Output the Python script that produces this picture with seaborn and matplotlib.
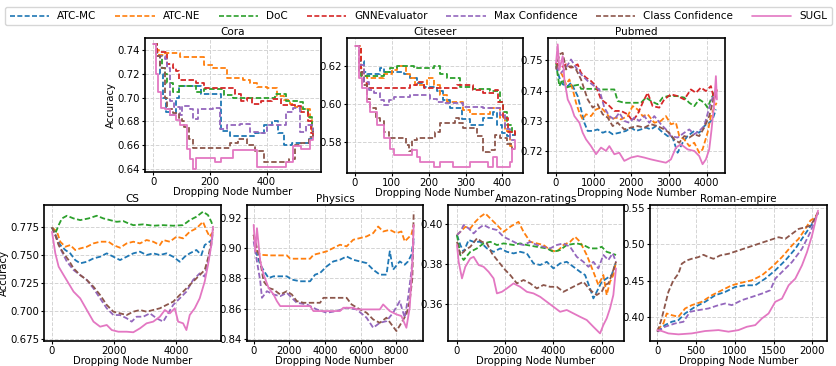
import matplotlib
matplotlib.use('Agg')
import matplotlib.pyplot as plt
from matplotlib.lines import Line2D
import pandas as pd
import seaborn as sns

methods = ['ATC-MC', 'ATC-NE', 'DoC', 'GNNEvaluator', 'Max Confidence', 'Class Confidence', 'SUGL']
colors = ['#1f77b4', '#ff7f0e', '#2ca02c', '#d62728', '#9467bd', '#8c564b', '#e377c2']
dataset_titles = ['Cora', 'Citeseer', 'Pubmed', 'CS', 'Physics', 'Amazon-ratings', 'Roman-empire']

# ---------------- Cora ([dropped nodes, accuracy]) ----------------
cora_atc_mc = [[0, .745], [15, .735], [25, .720], [35, .700], [45, .688], [60, .685], [80, .700], [90, .710], [150, .710], [170, .703], [220, .703], [240, .672], [270, .668], [330, .668], [360, .670], [390, .677], [420, .680], [440, .670], [460, .660], [490, .662], [530, .662], [550, .665], [563, .668]]
cora_atc_ne = [[0, .745], [10, .740], [20, .736], [40, .737], [95, .734], [176, .734], [180, .727], [210, .725], [259, .716], [318, .715], [340, .712], [365, .709], [400, .708], [435, .701], [460, .698], [482, .695], [500, .692], [517, .690], [553, .683], [560, .672], [565, .670]]
cora_doc = [[0, .745], [15, .735], [30, .725], [40, .720], [50, .712], [70, .705], [90, .710], [130, .710], [150, .705], [180, .707], [220, .707], [250, .702], [280, .700], [420, .700], [430, .703], [470, .697], [510, .696], [530, .690], [545, .684], [560, .675], [565, .672]]
cora_gnnevaluator = [[0, .745], [15, .738], [40, .738], [50, .728], [70, .725], [80, .722], [90, .715], [120, .715], [150, .712], [180, .708], [260, .708], [290, .703], [310, .697], [330, .700], [350, .695], [380, .697], [420, .699], [450, .694], [500, .693], [520, .688], [545, .680], [555, .670], [565, .667]]
cora_max_conf = [[0, .745], [10, .735], [40, .732], [50, .725], [60, .697], [75, .692], [94, .685], [100, .693], [130, .690], [141, .682], [159, .690], [212, .691], [235, .674], [260, .677], [306, .678], [341, .671], [376, .670], [400, .677], [435, .677], [470, .688], [494, .691], [517, .671], [540, .677], [565, .668]]
cora_class_conf = [[0, .745], [10, .735], [25, .725], [40, .700], [50, .690], [70, .687], [90, .683], [100, .680], [110, .675], [125, .665], [140, .658], [250, .658], [270, .662], [300, .665], [330, .660], [360, .655], [390, .646], [450, .646], [480, .648], [500, .660], [520, .662], [550, .667], [565, .672]]
cora_sugl = [[0, .745], [10, .720], [18, .705], [29, .691], [40, .690], [59, .685], [82, .681], [94, .677], [118, .657], [129, .648], [141, .640], [150, .649], [200, .649], [218, .646], [240, .649], [282, .656], [329, .656], [365, .642], [435, .642], [470, .646], [494, .659], [520, .657], [553, .664], [565, .667]]

# ---------------- Citeseer ----------------
cite_atc_mc = [[0, .631], [11, .623], [24, .617], [33, .616], [60, .616], [69, .619], [78, .617], [114, .617], [132, .616], [150, .614], [168, .611], [186, .609], [204, .609], [222, .607], [240, .602], [258, .598], [276, .598], [290, .592], [312, .589], [330, .589], [348, .593], [375, .596], [384, .589], [398, .585], [411, .583], [425, .584], [434, .585]]
cite_atc_ne = [[0, .631], [15, .619], [24, .615], [33, .614], [65, .614], [78, .616], [100, .618], [114, .620], [128, .620], [137, .616], [150, .614], [164, .610], [182, .610], [195, .614], [213, .610], [231, .605], [250, .601], [276, .601], [294, .597], [312, .595], [357, .595], [366, .598], [384, .598], [393, .593], [407, .586], [420, .578], [434, .577]]
cite_doc = [[0, .631], [10, .617], [15, .615], [52, .615], [78, .617], [96, .619], [114, .620], [150, .620], [160, .619], [205, .619], [213, .620], [231, .616], [250, .614], [276, .614], [285, .609], [312, .609], [321, .608], [357, .608], [366, .607], [384, .607], [393, .601], [402, .596], [411, .589], [425, .585], [434, .584]]
cite_gnnevaluator = [[0, .631], [15, .617], [24, .611], [33, .6085], [141, .6085], [150, .610], [168, .612], [186, .6085], [231, .6085], [276, .610], [303, .610], [321, .6076], [348, .606], [366, .606], [380, .6076], [389, .6014], [402, .5926], [416, .5855], [427, .586], [434, .583]]
cite_max_conf = [[0, .631], [11, .621], [24, .612], [38, .6076], [51, .606], [69, .602], [78, .5996], [92, .602], [105, .604], [132, .604], [150, .605], [186, .605], [204, .603], [222, .6014], [240, .6005], [276, .6005], [294, .5988], [330, .5988], [348, .598], [375, .598], [393, .5943], [407, .587], [420, .581], [434, .581]]
cite_class_conf = [[0, .631], [11, .617], [20, .610], [33, .603], [42, .598], [56, .5926], [69, .591], [78, .5855], [92, .582], [128, .582], [137, .5784], [146, .5752], [155, .581], [168, .582], [204, .582], [218, .5855], [231, .590], [250, .590], [272, .5929], [281, .590], [294, .5873], [312, .5873], [330, .583], [348, .5749], [366, .5757], [380, .5837], [393, .582], [411, .579], [425, .5766], [434, .5757]]
cite_sugl = [[0, .631], [11, .614], [20, .6085], [33, .6014], [42, .596], [60, .589], [78, .582], [96, .5766], [105, .573], [141, .573], [155, .5757], [168, .572], [177, .5696], [204, .5696], [213, .567], [231, .5696], [258, .5696], [267, .567], [303, .567], [312, .5696], [348, .5696], [362, .567], [375, .572], [384, .567], [411, .567], [420, .5696], [427, .5766], [434, .581]]

# ---------------- Pubmed ----------------
pub_atc_mc = [[0, .7481], [88, .7443], [177, .7421], [310, .7415], [398, .7426], [487, .7404], [575, .7382], [664, .7338], [752, .7294], [841, .7267], [974, .7267], [1106, .7272], [1239, .7261], [1372, .7267], [1505, .7256], [1681, .7261], [1858, .7267], [1991, .7278], [2124, .7267], [2257, .7272], [2390, .7278], [2522, .7272], [2655, .7283], [2788, .7267], [2965, .7250], [3098, .7245], [3230, .7195], [3363, .7228], [3496, .7250], [3673, .7267], [3805, .7261], [3938, .7283], [4071, .7294], [4160, .7305], [4248, .7338]]
pub_atc_ne = [[0, .7481], [88, .7470], [177, .7448], [265, .7421], [354, .7437], [443, .7404], [531, .7360], [620, .7327], [708, .7305], [797, .7322], [929, .7316], [1062, .7338], [1195, .7344], [1327, .7327], [1460, .7305], [1593, .7311], [1726, .7305], [1903, .7316], [2035, .7349], [2168, .7338], [2301, .7316], [2434, .7322], [2611, .7294], [2788, .7300], [2920, .7316], [3053, .7289], [3186, .7294], [3275, .7250], [3407, .7239], [3540, .7217], [3673, .7228], [3805, .7195], [3894, .7206], [4027, .7261], [4115, .7316], [4204, .7344], [4266, .7360]]
pub_doc = [[0, .7492], [88, .7415], [177, .7437], [265, .7410], [398, .7415], [620, .7420], [664, .7406], [1018, .7406], [1106, .7404], [1549, .7404], [1637, .7366], [1814, .7360], [2257, .7360], [2390, .7377], [2522, .7366], [2699, .7355], [2832, .7377], [2965, .7382], [3230, .7382], [3407, .7377], [3540, .7360], [3673, .7349], [3805, .7371], [3938, .7360], [4027, .7344], [4115, .7371], [4204, .7393], [4275, .7399]]
pub_gnnevaluator = [[0, .7492], [133, .7476], [265, .7487], [398, .7476], [575, .7487], [664, .7459], [797, .7443], [929, .7432], [1062, .7415], [1195, .7371], [1372, .7355], [1549, .7333], [1726, .7333], [1903, .7322], [2035, .7300], [2168, .7322], [2301, .7360], [2434, .7393], [2566, .7349], [2743, .7344], [2876, .7371], [3053, .7388], [3230, .7382], [3407, .7371], [3584, .7404], [3717, .7393], [3850, .7410], [3982, .7399], [4115, .7415], [4204, .7371], [4275, .7404]]
pub_max_conf = [[0, .7481], [133, .7459], [265, .7476], [398, .7503], [531, .7476], [664, .7454], [841, .7432], [1018, .7415], [1150, .7404], [1283, .7344], [1416, .7316], [1549, .7305], [1681, .7327], [1814, .7300], [1947, .7294], [2080, .7311], [2212, .7300], [2345, .7316], [2478, .7294], [2611, .7316], [2788, .7289], [2920, .7272], [3053, .7250], [3230, .7245], [3407, .7261], [3540, .7272], [3673, .7256], [3805, .7267], [3938, .7283], [4071, .7344], [4160, .7377], [4248, .7388]]
pub_class_conf = [[0, .7470], [88, .7520], [177, .7525], [265, .7470], [398, .7481], [531, .7470], [664, .7437], [752, .7404], [841, .7371], [974, .7344], [1106, .7355], [1239, .7322], [1372, .7311], [1505, .7283], [1637, .7294], [1814, .7272], [1991, .7278], [2168, .7283], [2345, .7278], [2522, .7289], [2699, .7283], [2876, .7272], [3009, .7261], [3142, .7239], [3275, .7228], [3407, .7250], [3540, .7245], [3673, .7256], [3805, .7250], [3938, .7278], [4071, .7316], [4160, .7360], [4248, .7399]]
pub_sugl = [[0, .7492], [44, .7553], [88, .7470], [177, .7514], [221, .7437], [310, .7371], [398, .7349], [487, .7316], [620, .7294], [708, .7261], [797, .7239], [929, .7217], [1062, .7190], [1195, .7212], [1327, .7201], [1416, .7217], [1549, .7190], [1681, .7195], [1814, .7168], [1991, .7179], [2168, .7184], [2345, .7179], [2522, .7173], [2699, .7168], [2920, .7162], [3053, .7173], [3186, .7212], [3318, .7223], [3496, .7206], [3673, .7201], [3805, .7184], [3894, .7157], [3982, .7173], [4071, .7206], [4133, .7272], [4204, .7360], [4248, .7448], [4275, .7371]]

# ---------------- CS ----------------
cs_atc_mc = [[0, .775], [160, .7652], [267, .7592], [428, .7548], [588, .7518], [749, .7458], [909, .7429], [1123, .7443], [1337, .7473], [1551, .7488], [1765, .7518], [1979, .7488], [2193, .7458], [2407, .7488], [2621, .7518], [2835, .7533], [3049, .7503], [3263, .7518], [3477, .7503], [3691, .7518], [3905, .7488], [4119, .7443], [4280, .7488], [4440, .7518], [4654, .7548], [4815, .7503], [4922, .7592], [5082, .7622], [5190, .7652]]
cs_atc_ne = [[0, .775], [160, .7711], [267, .7622], [428, .7577], [588, .7592], [749, .7548], [909, .7562], [1123, .7577], [1337, .7607], [1551, .7622], [1819, .7622], [1979, .7592], [2193, .7568], [2407, .7607], [2621, .7622], [2835, .7607], [3049, .7637], [3263, .7622], [3477, .7592], [3584, .7637], [3798, .7622], [4012, .7667], [4226, .7652], [4440, .7711], [4654, .7741], [4868, .7800], [4975, .7726], [5082, .7667], [5190, .7711]]
cs_doc = [[0, .775], [107, .7696], [214, .7770], [321, .7830], [481, .7854], [695, .7830], [909, .7815], [1177, .7830], [1444, .7854], [1658, .7830], [1872, .7815], [2086, .7800], [2300, .7806], [2461, .7786], [2621, .7770], [2942, .7777], [3263, .7765], [3584, .7770], [3905, .7765], [4226, .7770], [4440, .7815], [4654, .7845], [4868, .7890], [5029, .7860], [5136, .7800], [5190, .7756]]
cs_max_conf = [[0, .775], [107, .7680], [267, .7562], [481, .7443], [695, .7369], [909, .7324], [1123, .7280], [1337, .7205], [1551, .7116], [1765, .7027], [1979, .6967], [2193, .6967], [2407, .6938], [2568, .6908], [2728, .6952], [2942, .6952], [3156, .6982], [3370, .6938], [3584, .6908], [3745, .6982], [3905, .7057], [4119, .7116], [4333, .7176], [4547, .7280], [4761, .7339], [4922, .7310], [5029, .7443], [5136, .7592], [5190, .7711]]
cs_class_conf = [[0, .775], [107, .7682], [214, .7592], [374, .7518], [535, .7458], [695, .7384], [909, .7324], [1123, .7280], [1337, .7220], [1551, .7146], [1765, .7057], [1979, .6997], [2193, .6982], [2407, .6967], [2621, .6997], [2835, .7012], [3049, .6997], [3263, .7012], [3477, .7027], [3691, .7057], [3905, .7086], [4119, .7146], [4333, .7205], [4547, .7265], [4761, .7324], [4922, .7369], [5029, .7473], [5136, .7622], [5190, .7741]]
cs_sugl = [[0, .7711], [107, .7518], [214, .7399], [374, .7324], [535, .7250], [695, .7176], [909, .7116], [1123, .7012], [1337, .6908], [1551, .6863], [1765, .6878], [1926, .6833], [2140, .6818], [2407, .6818], [2621, .6813], [2835, .6848], [3049, .6893], [3263, .6908], [3477, .6952], [3638, .7012], [3798, .6982], [3958, .7027], [4066, .6908], [4226, .6893], [4333, .6833], [4440, .6967], [4601, .7027], [4761, .7116], [4922, .7265], [5029, .7414], [5136, .7592], [5190, .7756]]

# ---------------- Physics ----------------
phy_atc_mc = [[0, .909], [186, .8957], [372, .8891], [651, .8836], [837, .8803], [1116, .8814], [1860, .8814], [2139, .8792], [2604, .8781], [3162, .8781], [3441, .8825], [3720, .8836], [4092, .8880], [4464, .8913], [4836, .8924], [5208, .8946], [5580, .8924], [5952, .8913], [6324, .8902], [6696, .8858], [7068, .8825], [7440, .8825], [7626, .8980], [7812, .8858], [8184, .8913], [8463, .8891], [8649, .8913], [8835, .8957], [8965, .9068]]
phy_atc_ne = [[0, .909], [186, .8980], [372, .8957], [930, .8953], [1860, .8953], [2046, .8931], [3162, .8931], [3348, .8957], [3720, .8968], [4092, .8980], [4464, .9002], [4836, .9024], [5208, .9013], [5580, .9057], [5952, .9068], [6324, .9079], [6696, .9101], [6975, .9145], [7254, .9112], [7626, .9123], [7998, .9101], [8277, .9112], [8463, .9046], [8649, .9068], [8835, .9090], [8965, .9156]]
phy_max_conf = [[0, .9046], [186, .8913], [372, .8781], [465, .8671], [744, .8715], [1116, .8693], [1488, .8682], [1860, .8704], [2139, .8671], [2418, .8638], [2976, .8627], [3534, .8594], [4092, .8572], [4650, .8583], [5208, .8605], [5766, .8594], [6324, .8539], [6696, .8472], [7068, .8505], [7440, .8516], [7812, .8572], [8184, .8649], [8463, .8539], [8649, .8671], [8835, .8847], [8965, .9046]]
phy_class_conf = [[0, .909], [186, .9002], [372, .8913], [558, .8781], [837, .8737], [1116, .8726], [1488, .8693], [1860, .8715], [2139, .8693], [2418, .8649], [2790, .8638], [3720, .8638], [3906, .8671], [5208, .8671], [5487, .8627], [5952, .8594], [6324, .8572], [6696, .8527], [7068, .8505], [7440, .8539], [7719, .8494], [7998, .8450], [8277, .8505], [8556, .8561], [8742, .8649], [8891, .8803], [8965, .9244]]
phy_sugl = [[0, .9156], [93, .8980], [186, .9134], [372, .8913], [558, .8825], [837, .8737], [1116, .8693], [1302, .8649], [1488, .8616], [3162, .8616], [3348, .8583], [4836, .8583], [5022, .8605], [5580, .8605], [5766, .8594], [7068, .8594], [7254, .8627], [7626, .8583], [7998, .8561], [8277, .8550], [8556, .8472], [8742, .8605], [8891, .8913], [8965, .9156]]

# ---------------- Amazon-ratings ----------------
amz_atc_mc = [[0, .3947], [138, .3897], [276, .3863], [483, .3922], [690, .3913], [966, .3913], [1242, .3880], [1518, .3863], [1794, .3880], [2070, .3863], [2346, .3855], [2622, .3863], [2898, .3855], [3174, .3805], [3450, .3797], [3726, .3813], [4002, .3780], [4278, .3805], [4554, .3813], [4830, .3788], [5106, .3763], [5313, .3747], [5520, .3680], [5658, .3630], [5796, .3663], [6003, .3713], [6210, .3730], [6417, .3747], [6596, .3813]]
amz_atc_ne = [[0, .3947], [138, .3963], [345, .3988], [552, .3980], [759, .4013], [966, .4038], [1173, .4055], [1380, .4030], [1656, .3997], [1932, .3963], [2208, .3988], [2553, .4013], [2760, .3963], [3036, .3913], [3312, .3905], [3588, .3897], [3864, .3872], [4140, .3863], [4416, .3897], [4692, .3913], [4899, .3938], [5106, .3913], [5382, .3847], [5658, .3763], [5865, .3697], [6072, .3747], [6210, .3647], [6348, .3713], [6486, .3747], [6596, .3813]]
amz_doc = [[0, .3947], [138, .3847], [276, .3822], [552, .3863], [828, .3880], [1104, .3905], [1380, .3913], [1656, .3897], [1932, .3905], [2346, .3897], [2622, .3905], [2898, .3897], [3312, .3888], [3726, .3880], [4002, .3863], [4278, .3872], [4554, .3897], [4968, .3905], [5244, .3897], [5520, .3880], [5796, .3880], [6003, .3888], [6210, .3863], [6417, .3855], [6596, .3847]]
amz_max_conf = [[0, .3947], [138, .3963], [276, .3997], [483, .3980], [690, .3955], [897, .3980], [1104, .3997], [1380, .3980], [1656, .3972], [1932, .3938], [2208, .3922], [2484, .3905], [2760, .3897], [3036, .3913], [3312, .3897], [3588, .3888], [3864, .3880], [4140, .3897], [4416, .3905], [4692, .3888], [4968, .3838], [5244, .3813], [5451, .3788], [5658, .3813], [5865, .3780], [6072, .3847], [6279, .3822], [6458, .3855], [6596, .3813]]
amz_class_conf = [[0, .3913], [138, .3847], [345, .3872], [552, .3888], [828, .3930], [1035, .3913], [1242, .3905], [1449, .3855], [1725, .3813], [2001, .3772], [2208, .3747], [2484, .3705], [2760, .3722], [3036, .3705], [3312, .3680], [3588, .3697], [3864, .3688], [4140, .3688], [4416, .3663], [4692, .3680], [4968, .3697], [5244, .3713], [5520, .3672], [5796, .3647], [6003, .3663], [6141, .3697], [6279, .3705], [6417, .3747], [6596, .3813]]
amz_sugl = [[0, .3897], [69, .3813], [207, .3730], [345, .3788], [552, .3830], [690, .3838], [897, .3797], [1104, .3788], [1311, .3763], [1518, .3730], [1656, .3655], [1863, .3663], [2070, .3680], [2346, .3705], [2622, .3688], [2898, .3663], [3174, .3655], [3450, .3638], [3726, .3613], [4002, .3588], [4278, .3563], [4554, .3572], [4830, .3555], [5106, .3538], [5382, .3522], [5658, .3488], [5934, .3455], [6072, .3497], [6210, .3530], [6348, .3580], [6486, .3647], [6596, .3780]]

# ---------------- Roman-empire ----------------
rom_atc_mc = [[0, .3793], [99, .3884], [185, .3930], [272, .3953], [358, .4045], [487, .4137], [616, .4206], [746, .4297], [875, .4343], [1004, .4412], [1134, .4435], [1263, .4435], [1392, .4527], [1521, .4642], [1651, .4779], [1780, .4940], [1909, .5147], [1996, .5284], [2073, .5422]]
rom_atc_ne = [[0, .3815], [78, .3907], [121, .4045], [185, .4022], [272, .3999], [358, .4114], [444, .4160], [573, .4206], [703, .4297], [832, .4366], [961, .4435], [1090, .4472], [1220, .4504], [1349, .4573], [1478, .4688], [1608, .4825], [1737, .4986], [1823, .5078], [1909, .5215], [1974, .5330], [2039, .5376], [2073, .5445]]
rom_max_conf = [[0, .3793], [99, .3861], [228, .3907], [336, .3930], [422, .4068], [530, .4091], [659, .4114], [789, .4160], [875, .4183], [961, .4160], [1090, .4229], [1220, .4274], [1349, .4320], [1457, .4366], [1521, .4527], [1608, .4619], [1737, .4756], [1866, .4940], [1974, .5170], [2073, .5445]]
rom_class_conf = [[0, .3793], [56, .3976], [99, .4160], [142, .4343], [207, .4504], [272, .4596], [315, .4733], [379, .4779], [444, .4802], [530, .4825], [595, .4857], [659, .4825], [724, .4802], [810, .4848], [918, .4871], [1047, .4917], [1177, .4963], [1306, .5009], [1435, .5055], [1565, .5100], [1651, .5078], [1737, .5147], [1823, .5215], [1909, .5238], [1974, .5261], [2017, .5330], [2073, .5445]]
rom_sugl = [[0, .3815], [56, .3802], [142, .3769], [272, .3756], [444, .3769], [616, .3802], [789, .3815], [918, .3793], [1047, .3815], [1155, .3861], [1263, .3884], [1349, .3976], [1435, .4045], [1521, .4206], [1608, .4251], [1694, .4435], [1780, .4527], [1866, .4711], [1931, .4894], [1996, .5124], [2073, .5468]]

# ---------------- tick labels ----------------
cora_xticks, cora_yticks = [0, 200, 400], [0.64, 0.66, 0.68, 0.70, 0.72, 0.74]
cite_xticks, cite_yticks = [0, 100, 200, 300, 400], [0.58, 0.60, 0.62]
pub_xticks, pub_yticks = [0, 1000, 2000, 3000, 4000], [0.72, 0.73, 0.74, 0.75]
cs_xticks, cs_yticks = [0, 2000, 4000], [0.675, 0.700, 0.725, 0.750, 0.775]
phy_xticks, phy_yticks = [0, 2000, 4000, 6000, 8000], [0.84, 0.86, 0.88, 0.90, 0.92]
amz_xticks, amz_yticks = [0, 2000, 4000, 6000], [0.36, 0.38, 0.40]
rom_xticks, rom_yticks = [0, 500, 1000, 1500, 2000], [0.40, 0.45, 0.50, 0.55]

sns.set_theme(style='whitegrid', rc={
    'axes.edgecolor': 'black', 'axes.linewidth': 1.2,
    'grid.color': '#d4d4d4', 'grid.linestyle': '--', 'grid.linewidth': 0.7,
    'xtick.bottom': True, 'ytick.left': True,
    'xtick.major.size': 2, 'ytick.major.size': 2,
    'xtick.major.width': 0.8, 'ytick.major.width': 0.8,
    'xtick.major.pad': 1.5, 'ytick.major.pad': 1.5,
    'xtick.color': 'black', 'ytick.color': 'black',
    'font.size': 7.3, 'xtick.labelsize': 7.3, 'ytick.labelsize': 7.3,
    'axes.labelsize': 7.3, 'axes.titlesize': 7.5, 'legend.fontsize': 7.5,
    'text.color': 'black', 'axes.labelcolor': 'black',
})
plt.rcParams['font.family'] = ['DejaVu Sans']

palette = dict(zip(methods, colors))
dash_styles = {m: (3.0, 1.4) for m in methods}
dash_styles['SUGL'] = ''


def to_frame(series):
    rows = []
    for name, pts in series.items():
        for x, y in pts:
            rows.append((x, y, name))
    return pd.DataFrame(rows, columns=['x', 'y', 'method'])


panels = [
    dict(title='Cora', rect=[145, 38, 176, 134], steps=True, ylabel=True,
         xlim=(-29, 592), ylim=(0.6375, 0.750), xt=cora_xticks, yt=cora_yticks,
         series={'ATC-MC': cora_atc_mc, 'ATC-NE': cora_atc_ne, 'DoC': cora_doc,
                 'GNNEvaluator': cora_gnnevaluator, 'Max Confidence': cora_max_conf,
                 'Class Confidence': cora_class_conf, 'SUGL': cora_sugl}),
    dict(title='Citeseer', rect=[347, 38, 176, 135], steps=True, ylabel=False,
         xlim=(-21.7, 455.7), ylim=(0.5637, 0.635), xt=cite_xticks, yt=cite_yticks,
         series={'ATC-MC': cite_atc_mc, 'ATC-NE': cite_atc_ne, 'DoC': cite_doc,
                 'GNNEvaluator': cite_gnnevaluator, 'Max Confidence': cite_max_conf,
                 'Class Confidence': cite_class_conf, 'SUGL': cite_sugl}),
    dict(title='Pubmed', rect=[548, 38, 177, 135], steps=False, ylabel=False,
         xlim=(-214, 4490), ylim=(0.7128, 0.7574), xt=pub_xticks, yt=pub_yticks,
         series={'ATC-MC': pub_atc_mc, 'ATC-NE': pub_atc_ne, 'DoC': pub_doc,
                 'GNNEvaluator': pub_gnnevaluator, 'Max Confidence': pub_max_conf,
                 'Class Confidence': pub_class_conf, 'SUGL': pub_sugl}),
    dict(title='CS', rect=[44, 205, 177, 136], steps=False, ylabel=True,
         xlim=(-258, 5448), ylim=(0.6735, 0.795), xt=cs_xticks, yt=cs_yticks,
         series={'ATC-MC': cs_atc_mc, 'ATC-NE': cs_atc_ne, 'DoC': cs_doc,
                 'Max Confidence': cs_max_conf, 'Class Confidence': cs_class_conf,
                 'SUGL': cs_sugl}),
    dict(title='Physics', rect=[247, 205, 176, 136], steps=False, ylabel=False,
         xlim=(-372, 9486), ylim=(0.8384, 0.9288), xt=phy_xticks, yt=phy_yticks,
         series={'ATC-MC': phy_atc_mc, 'ATC-NE': phy_atc_ne,
                 'Max Confidence': phy_max_conf, 'Class Confidence': phy_class_conf,
                 'SUGL': phy_sugl}),
    dict(title='Amazon-ratings', rect=[448, 205, 176, 136], steps=False, ylabel=False,
         xlim=(-373, 6928), ylim=(0.3417, 0.4097), xt=amz_xticks, yt=amz_yticks,
         series={'ATC-MC': amz_atc_mc, 'ATC-NE': amz_atc_ne, 'DoC': amz_doc,
                 'Max Confidence': amz_max_conf, 'Class Confidence': amz_class_conf,
                 'SUGL': amz_sugl}),
    dict(title='Roman-empire', rect=[650, 205, 177, 136], steps=False, ylabel=False,
         xlim=(-95, 2189), ylim=(0.3664, 0.5546), xt=rom_xticks, yt=rom_yticks,
         series={'ATC-MC': rom_atc_mc, 'ATC-NE': rom_atc_ne,
                 'Max Confidence': rom_max_conf, 'Class Confidence': rom_class_conf,
                 'SUGL': rom_sugl}),
]

W, H = 837, 366
fig = plt.figure(figsize=(W / 100, H / 100), dpi=100)

for p in panels:
    l, t, w, h = p['rect']
    ax = fig.add_axes([l / W, 1 - (t + h) / H, w / W, h / H])
    df = to_frame(p['series'])
    present = [m for m in methods if m in p['series']]
    extra = {'drawstyle': 'steps-post'} if p['steps'] else {}
    sns.lineplot(data=df, x='x', y='y', hue='method', style='method',
                 hue_order=present, style_order=present, palette=palette,
                 dashes={m: dash_styles[m] for m in present},
                 estimator=None, legend=False, ax=ax, linewidth=1.3, **extra)
    ax.set_xlim(*p['xlim'])
    ax.set_ylim(*p['ylim'])
    ax.set_xticks(p['xt'])
    ax.set_yticks(p['yt'])
    ax.set_title(p['title'], pad=2)
    ax.set_xlabel('Dropping Node Number', labelpad=0)
    ax.set_ylabel('Accuracy' if p['ylabel'] else '', labelpad=1)
    for s in ax.spines.values():
        s.set_color('black')
        s.set_linewidth(1.2)

handles = [Line2D([], [], color=c, lw=1.2,
                  dashes=(3.0, 1.4) if m != 'SUGL' else (None, None),
                  linestyle='--' if m != 'SUGL' else '-')
           for m, c in zip(methods, colors)]
fig.legend(handles, methods, loc='upper center', bbox_to_anchor=(0.5, 0.995),
           ncol=7, frameon=True, fontsize=7.5, handlelength=3.8,
           handletextpad=0.77, columnspacing=1.78, borderpad=0.4,
           edgecolor='#cccccc', fancybox=True)

fig.savefig('out.png', dpi=100)
